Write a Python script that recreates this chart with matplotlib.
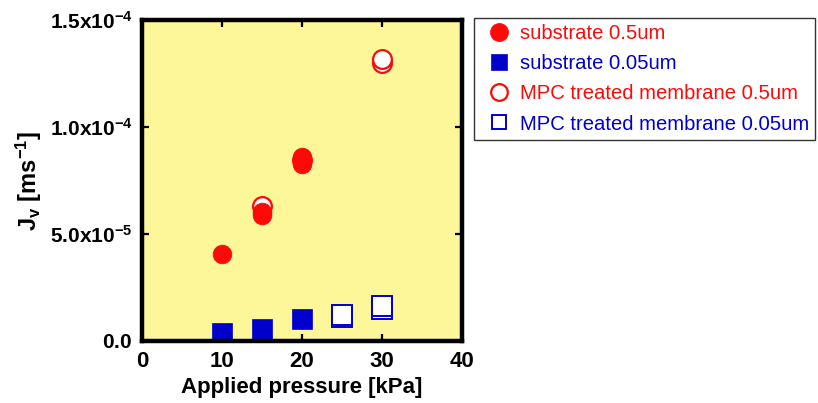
import matplotlib
matplotlib.use("Agg")
import matplotlib.pyplot as plt
from matplotlib.ticker import FixedLocator, FixedFormatter

plt.rcParams['font.family'] = ['Liberation Sans', 'DejaVu Sans']
plt.rcParams['mathtext.fontset'] = 'custom'
plt.rcParams['mathtext.rm'] = 'Liberation Sans'
plt.rcParams['mathtext.it'] = 'Liberation Sans:italic'
plt.rcParams['mathtext.bf'] = 'Liberation Sans:bold'

# Permeate flux Jv [m/s] against applied pressure [kPa]
sub05_p = [10, 15, 15, 20, 20, 20]
sub05_j = [4.07e-5, 5.90e-5, 6.05e-5, 8.25e-5, 8.45e-5, 8.60e-5]

sub005_p = [10, 15, 20]
sub005_j = [3.7e-6, 5.4e-6, 1.03e-5]

mpc05_p = [15, 20, 30, 30]
mpc05_j = [6.33e-5, 8.45e-5, 1.30e-4, 1.32e-4]

mpc005_p = [25, 25, 30, 30]
mpc005_j = [1.12e-5, 1.21e-5, 1.48e-5, 1.65e-5]

x_ticks = [0, 10, 20, 30, 40]
y_ticks = [0.0, 5e-5, 1.0e-4, 1.5e-4]
y_tick_labels = [r'$\mathbf{0.0}$',
                 r'$\mathbf{5.0x10^{-5}}$',
                 r'$\mathbf{1.0x10^{-4}}$',
                 r'$\mathbf{1.5x10^{-4}}$']

RED = '#ff0808'
BLUE = '#0000cc'
PANEL = '#fdf799'

fig = plt.figure(figsize=(8.18, 4.03), dpi=100)
ax = fig.add_axes([142 / 818, 1 - 341 / 403, 320 / 818, 321 / 403])
ax.set_facecolor(PANEL)

# open markers underneath, filled markers on top
h3, = ax.plot(mpc05_p, mpc05_j, 'o', ms=13.5, mfc='white', mec=RED, mew=1.6,
              ls='none', label='MPC treated membrane 0.5um', zorder=2)
h4, = ax.plot(mpc005_p, mpc005_j, 's', ms=14, mfc='white', mec=BLUE, mew=1.4,
              ls='none', label='MPC treated membrane 0.05um', zorder=2)
h1, = ax.plot(sub05_p, sub05_j, 'o', ms=13.5, mfc=RED, mec=RED, mew=0.5,
              ls='none', label='substrate 0.5um', zorder=3)
h2, = ax.plot(sub005_p, sub005_j, 's', ms=14.5, mfc=BLUE, mec=BLUE, mew=0.5,
              ls='none', label='substrate 0.05um', zorder=3)

ax.set_xlim(0, 40)
ax.set_ylim(0, 1.5e-4)
ax.xaxis.set_major_locator(FixedLocator(x_ticks))
ax.yaxis.set_major_locator(FixedLocator(y_ticks))
ax.yaxis.set_major_formatter(FixedFormatter(y_tick_labels))

for s in ax.spines.values():
    s.set_linewidth(3.2)
    s.set_zorder(5)

ax.tick_params(direction='in', length=5, width=1.6, top=True, right=True, pad=7)
ax.tick_params(axis='x', labelsize=16)
ax.tick_params(axis='y', labelsize=15)
for lab in ax.get_xticklabels():
    lab.set_fontweight('bold')

ax.set_xlabel('Applied pressure [kPa]', fontsize=16, fontweight='bold', labelpad=4)
ax.set_ylabel(r'$\mathbf{J_v\ [ms^{-1}]}$', fontsize=17, labelpad=4)

leg = fig.legend([h1, h2, h3, h4],
                 ['substrate 0.5um', 'substrate 0.05um',
                  'MPC treated membrane 0.5um', 'MPC treated membrane 0.05um'],
                 loc='upper left', bbox_to_anchor=(474 / 818, 1 - 18 / 403),
                 fontsize=14.6, frameon=True, fancybox=False, edgecolor='black',
                 handletextpad=0.05, labelspacing=0.55, borderpad=0.3,
                 handlelength=1.9, borderaxespad=0)
leg.get_frame().set_linewidth(1.0)
for txt, col in zip(leg.get_texts(), [RED, BLUE, RED, BLUE]):
    txt.set_color(col)
# legend symbols are drawn a little smaller than the plotted markers
for hnd, ms in zip(leg.legend_handles, [13, 11, 12, 10]):
    hnd.set_markersize(ms)

fig.savefig('out.png', dpi=100)
